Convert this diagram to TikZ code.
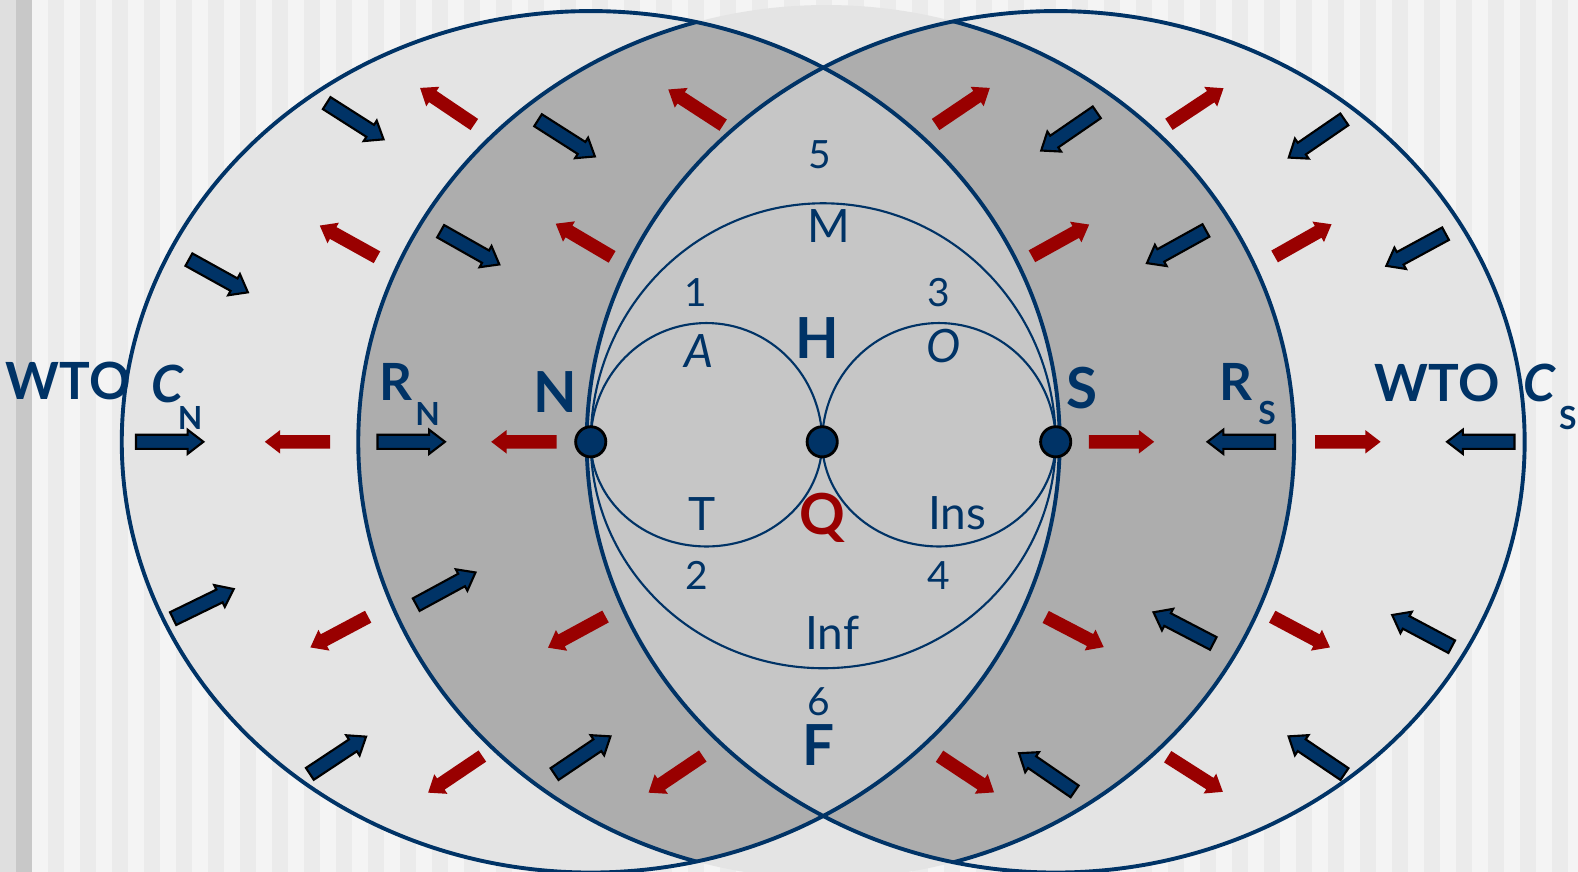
\documentclass[tikz,border=0pt]{standalone}
\usepackage{fontspec}
\setmainfont{Lato}
\usetikzlibrary{shapes.arrows,positioning}
\definecolor{wtoblue}{HTML}{003366}
\definecolor{wtored}{HTML}{990000}
\definecolor{ringgray}{HTML}{ADADAD}
\definecolor{lensgray}{HTML}{C6C6C6}
\definecolor{outergray}{HTML}{E4E4E4}
\definecolor{stripelight}{HTML}{F4F4F4}
\definecolor{stripedark}{HTML}{EBEBEB}
\tikzstyle{rim} = [wtoblue, line width=1.1pt]
\tikzstyle{arcline} = [wtoblue, line width=0.6pt]
\tikzstyle{dot} = [circle, draw=black, line width=0.8pt, fill=wtoblue, minimum size=3mm, inner sep=0pt]
\tikzstyle{bluearrow} = [single arrow, draw=black, line width=0.6pt, fill=wtoblue, minimum height=6.7mm, single arrow head extend=0.5mm, single arrow tip angle=75, inner xsep=0pt, inner ysep=0.6mm]
\tikzstyle{redarrow} = [single arrow, fill=wtored, minimum height=6.5mm, single arrow head extend=0.5mm, single arrow tip angle=75, inner xsep=0pt, inner ysep=0.6mm]
\tikzstyle{numlbl} = [text=wtoblue, inner sep=0pt, font=\fontsize{11}{13}\selectfont]
\tikzstyle{letlbl} = [text=wtoblue, inner sep=0pt, font=\fontsize{13}{15}\selectfont]
\tikzstyle{biglbl} = [text=wtoblue, inner sep=0pt, font=\fontsize{16}{18}\selectfont\bfseries]
\tikzstyle{sidelbl} = [text=wtoblue, inner sep=0pt, font=\fontsize{14.5}{17}\selectfont\bfseries]
\tikzstyle{sublbl} = [text=wtoblue, inner sep=0pt, font=\fontsize{9}{11}\selectfont\bfseries]

\begin{document}
\begin{tikzpicture}
\useasboundingbox (-8.17,-4.27) rectangle (7.51,4.39);
% striped background
\fill[stripelight] (-8.17,-4.27) rectangle (7.51,4.39);
\fill[stripedark!95!black] (-8.17,-4.27) rectangle ++(0.159,8.66);
\fill[stripedark!85!black] (-8.011,-4.27) rectangle ++(0.159,8.66);
\foreach \i in {0,...,48} {
  \fill[stripedark] ({-7.693+0.318*\i},-4.27) rectangle ++(0.159,8.66);
}
\coordinate (cN) at (-2.30,0);
\coordinate (cM) at (0,0);
\coordinate (cS) at (2.32,0);
\coordinate (cR) at (0.04,0);
% the three big ellipses
\fill[outergray] (cN) ellipse [x radius=4.66, y radius=4.28];
\fill[outergray] (cS) ellipse [x radius=4.66, y radius=4.28];
\fill[outergray] (cR) ellipse [x radius=4.65, y radius=4.34];
\begin{scope}
  \clip (cR) ellipse [x radius=4.65, y radius=4.34];
  \fill[ringgray] (cN) ellipse [x radius=4.66, y radius=4.28];
  \fill[ringgray] (cS) ellipse [x radius=4.66, y radius=4.28];
\end{scope}
\begin{scope}
  \clip (cN) ellipse [x radius=4.66, y radius=4.28];
  \fill[lensgray] (cS) ellipse [x radius=4.66, y radius=4.28];
  \draw[rim] (cR) ellipse [x radius=4.65, y radius=4.34];
\end{scope}
\begin{scope}
  \clip (cS) ellipse [x radius=4.66, y radius=4.28];
  \draw[rim] (cR) ellipse [x radius=4.65, y radius=4.34];
\end{scope}
\draw[rim] (cN) ellipse [x radius=4.66, y radius=4.28];
\draw[rim] (cS) ellipse [x radius=4.66, y radius=4.28];
% inner arcs
\draw[arcline] (cN) arc [start angle=180, end angle=0, x radius=1.15, y radius=1.18];
\draw[arcline] (cN) arc [start angle=180, end angle=360, x radius=1.15, y radius=1.04];
\draw[arcline] (cM) arc [start angle=180, end angle=0, x radius=1.16, y radius=1.18];
\draw[arcline] (cM) arc [start angle=180, end angle=360, x radius=1.16, y radius=1.04];
\draw[arcline] (cN) arc [start angle=180, end angle=0, x radius=2.31, y radius=2.37];
\draw[arcline] (cN) arc [start angle=180, end angle=360, x radius=2.31, y radius=2.25];
\node[dot] (dotN) at (cN) {};
\node[dot] (dotM) at (cM) {};
\node[dot] (dotS) at (cS) {};
% arrows
\foreach \x/\y/\a [count=\k] in {-4.68/3.21/-32.5, -2.58/3.04/-32.5, -6.04/1.67/-29, -3.54/1.95/-29.5,
    -6.53/0/0, -4.13/0/0, -6.19/-1.63/26, -3.78/-1.48/28.5, -4.85/-3.14/33.5, -2.42/-3.14/34,
    2.49/3.11/-145.5, 4.95/3.04/-145.5, 3.56/1.96/-151, 5.94/1.93/-151.5,
    4.21/0/180, 6.59/0/180, 3.63/-1.87/152.5, 6.00/-1.90/152, 2.27/-3.31/145.5, 4.95/-3.14/146} {
  \node[bluearrow, rotate=\a] (blue\k) at (\x,\y) {};
}
\foreach \x/\y/\a [count=\k] in {-3.69/3.31/146, -1.22/3.30/147, -4.67/1.97/151, -2.33/1.98/149.5,
    -5.17/0/180, -2.92/0/180, -4.76/-1.87/-152, -2.40/-1.87/-151.5, -3.61/-3.28/-146, -1.42/-3.28/-146,
    1.36/3.31/34, 3.68/3.31/33.5, 2.33/1.98/29, 4.74/1.98/29.5,
    2.93/0/0, 5.18/0/0, 2.47/-1.87/-27.5, 4.72/-1.87/-28, 1.40/-3.28/-33.5, 3.67/-3.28/-32.5} {
  \node[redarrow, rotate=\a] (red\k) at (\x,\y) {};
}
% labels
\node[numlbl] (n5) at (-0.02,2.85) {5};
\node[letlbl] (lblM) at (0.07,2.14) {M};
\node[numlbl] (n1) at (-1.26,1.48) {1};
\node[letlbl] (lblA) at (-1.22,0.90) {\itshape A};
\node[biglbl] (lblH) at (-0.05,1.03) {H};
\node[numlbl] (n3) at (1.16,1.48) {3};
\node[letlbl] (lblO) at (1.21,0.95) {\itshape O};
\node[biglbl] (lblN) at (-2.65,0.49) {N};
\node[biglbl] (lblS) at (2.58,0.53) {S};
\node[letlbl] (lblT) at (-1.19,-0.72) {T};
\node[biglbl, text=wtored] (lblQ) at (0,-0.76) {Q};
\node[letlbl] (lblIns) at (1.34,-0.71) {Ins};
\node[numlbl] (n2) at (-1.25,-1.33) {2};
\node[numlbl] (n4) at (1.16,-1.33) {4};
\node[letlbl] (lblInf) at (0.10,-1.90) {Inf};
\node[numlbl] (n6) at (-0.03,-2.58) {6};
\node[biglbl] (lblF) at (-0.04,-3.01) {F};
\node[sidelbl] (wtoN) at (-7.49,0.60) {WTO};
\node[sidelbl] (cNl) at (-6.51,0.57) {\itshape C};
\node[sublbl] (cNs) at (-6.28,0.24) {N};
\node[sidelbl] (rNl) at (-4.24,0.59) {R};
\node[sublbl] (rNs) at (-3.92,0.28) {N};
\node[sidelbl] (rSl) at (4.11,0.59) {R};
\node[sublbl] (rSs) at (4.42,0.29) {S};
\node[sidelbl] (wtoS) at (6.11,0.58) {WTO};
\node[sidelbl] (cSl) at (7.13,0.58) {\itshape C};
\node[sublbl] (cSs) at (7.41,0.24) {S};
\end{tikzpicture}
\end{document}
